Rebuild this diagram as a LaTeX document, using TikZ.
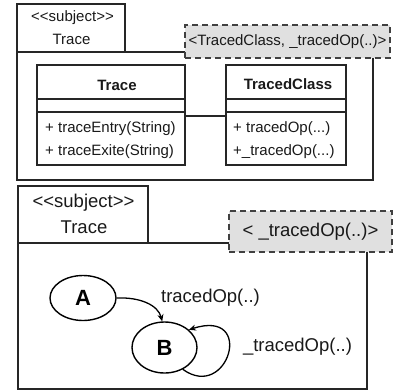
\documentclass[tikz,border=0pt]{standalone}
\usepackage{fontspec}
\setmainfont{Liberation Sans}[Ligatures=NoCommon]
\usetikzlibrary{shapes.geometric,arrows.meta}
\tikzset{
  pkgline/.style={draw=black!85, line width=1.7pt},
  clsbox/.style={draw=black!85, line width=1.4pt, rectangle, inner sep=0pt},
  dbox/.style={draw=black!75, fill=black!12, line width=1.8pt, dash pattern=on 6pt off 4pt, rectangle, inner sep=0pt},
  topfont/.style={font=\fontsize{15}{17}\selectfont},
  botfont/.style={font=\fontsize{18.5}{21}\selectfont},
  txt/.style={inner sep=0pt, text=black!90},
  stbox/.style={draw=black, line width=1.4pt, ellipse, inner sep=0pt, font=\fontsize{22}{24}\selectfont\bfseries},
  conn/.style={draw=black, line width=1.3pt, -{Stealth[length=7pt,width=6pt]}}
}
\begin{document}
\begin{tikzpicture}[x=1pt,y=-1pt]
\useasboundingbox (0,0) rectangle (395,391);
% ---------- top package ----------
\node[pkgline, rectangle, minimum width=108, minimum height=48, inner sep=0pt] (tab1) at (71,28) {};
\node[pkgline, rectangle, minimum width=356, minimum height=128, inner sep=0pt] (body1) at (195,116) {};
\node[dbox, minimum width=205, minimum height=33] (tpl1) at (287.5,41.5) {};
\node[txt, topfont] (tpl1t) at (tpl1.center) {<TracedClass, \_tracedOp(..)>};
\node[txt, topfont] (st1) at (72.5,18) {<{}<subject>{}>};
\node[txt, topfont] (nm1) at (71.5,39) {Trace};
% classes
\node[clsbox, minimum width=148, minimum height=100] (ctrace) at (111,115) {};
\node[clsbox, minimum width=120, minimum height=100] (ctraced) at (286,115) {};
\draw[line width=1.2pt, black!85] (ctrace.west |- 0,99) -- (ctrace.east |- 0,99);
\draw[line width=1.2pt, black!85] (ctrace.west |- 0,112) -- (ctrace.east |- 0,112);
\draw[line width=1.2pt, black!85] (ctraced.west |- 0,99) -- (ctraced.east |- 0,99);
\draw[line width=1.2pt, black!85] (ctraced.west |- 0,112) -- (ctraced.east |- 0,112);
\draw[line width=1.3pt, black!85] ([yshift=-1pt]ctrace.east) -- ([yshift=-1pt]ctraced.west);
\node[txt, font=\fontsize{15}{17}\selectfont\bfseries] (tn) at (117,85) {Trace};
\node[txt, font=\fontsize{15}{17}\selectfont\bfseries] (tcn) at (288,84) {TracedClass};
\node[txt, topfont, anchor=west] (op1) at (45,129) {+ traceEntry(String)};
\node[txt, topfont, anchor=west] (op2) at (45,152) {+ traceExite(String)};
\node[txt, topfont, anchor=west] (op3) at (233,129) {+ tracedOp(...)};
\node[txt, topfont, anchor=west] (op4) at (233,152) {+\_tracedOp(...)};
% ---------- bottom package ----------
\node[pkgline, rectangle, minimum width=130, minimum height=57, inner sep=0pt] (tab2) at (83,214.5) {};
\node[pkgline, rectangle, minimum width=349, minimum height=146, inner sep=0pt] (body2) at (192.5,316) {};
\node[dbox, minimum width=163, minimum height=41] (tpl2) at (310.5,231.5) {};
\node[txt, botfont] (tpl2t) at (tpl2.center) {< \_tracedOp(..)>};
\node[txt, botfont] (st2) at (83.5,203) {<{}<subject>{}>};
\node[txt, botfont] (nm2) at (84,227) {Trace};
% states
\node[stbox, minimum width=66, minimum height=45] (A) at (83,298) {A};
\node[stbox, minimum width=65, minimum height=51] (B) at (164.5,347.5) {B};
\draw[conn] (A.east) .. controls (140,297) and (158,305) .. (B.95);
\draw[conn] (B.-50) .. controls (228,402) and (256,308) .. (B.36);
\node[txt, botfont] (l1) at (210.5,298) {tracedOp(..)};
\node[txt, botfont] (l2) at (297.5,347) {\_tracedOp(..)};
\end{tikzpicture}
\end{document}
